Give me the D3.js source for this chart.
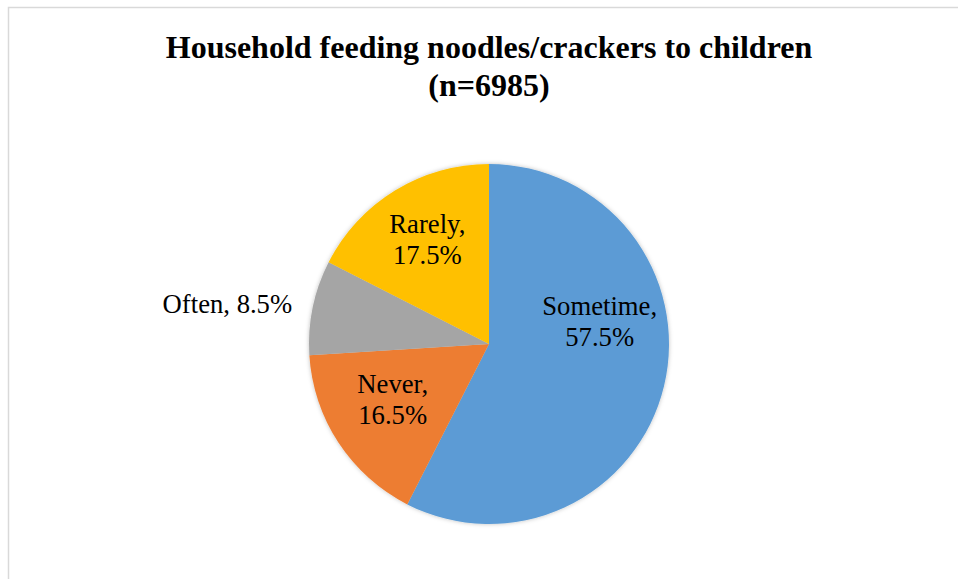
<!DOCTYPE html>
<html><head><meta charset="utf-8">
<script src="https://cdn.jsdelivr.net/npm/d3@7"></script>
<style>body{margin:0;background:#fff;}svg{display:block;}</style>
</head><body>
<script>
const categories = ["Sometime", "Never", "Often", "Rarely"];
const values = [57.5, 16.5, 8.5, 17.5];
const colors = ["#5B9BD5", "#ED7D31", "#A5A5A5", "#FFC000"];
const titleLines = ["Household feeding noodles/crackers to children", "(n=6985)"];

const W = 958, H = 579;
const svg = d3.select("body").append("svg").attr("width", W).attr("height", H);
svg.append("rect").attr("width", W).attr("height", H).attr("fill", "#fff");
svg.append("rect").attr("x", 8.5).attr("y", 7.5).attr("width", W + 20).attr("height", H + 20)
  .attr("fill", "none").attr("stroke", "#d9d9d9").attr("stroke-width", 1.5);

const defs = svg.append("defs");
const f = defs.append("filter").attr("id", "sh").attr("x", "-20%").attr("y", "-20%").attr("width", "140%").attr("height", "140%");
f.append("feDropShadow").attr("dx", 0).attr("dy", 0).attr("stdDeviation", 2).attr("flood-color", "#000").attr("flood-opacity", 0.25);

const font = "'Liberation Serif','Times New Roman',serif";
svg.append("g").selectAll("text").data(titleLines).join("text")
  .attr("x", 489).attr("y", (d, i) => 58 + i * 38)
  .attr("text-anchor", "middle")
  .attr("font-family", font)
  .attr("font-weight", "bold").attr("font-size", 32).attr("fill", "#000")
  .text(d => d);

const cx = 489, cy = 344, R = 180;
const data = categories.map((c, i) => ({cat: c, value: values[i], color: colors[i]}));
const pie = d3.pie().value(d => d.value).sort(null);
const arcs = pie(data);
const arc = d3.arc().innerRadius(0).outerRadius(R);
const g = svg.append("g").attr("transform", `translate(${cx},${cy})`);
g.append("g").attr("filter", "url(#sh)").selectAll("path").data(arcs).join("path")
  .attr("d", arc).attr("fill", d => d.data.color);

// label placement: inside labels on arc at radius 120, outside label at radius 200
const labelArcIn = d3.arc().innerRadius(120).outerRadius(120);
const labelArcOut = d3.arc().innerRadius(200).outerRadius(200);
const outside = [false, false, true, false];
const nudge = [[-6, -57], [4, -17], [-1, 10], [1, -9]];
arcs.forEach((a, i) => {
  const p = outside[i] ? labelArcOut.centroid(a) : labelArcIn.centroid(a);
  const x = p[0] + nudge[i][0], y = p[1] + nudge[i][1];
  const t = g.append("text").attr("font-family", font).attr("font-size", 26.67).attr("fill", "#000")
    .attr("text-anchor", outside[i] ? "end" : "middle");
  if (outside[i]) {
    t.attr("x", x).attr("y", y).text(`${a.data.cat}, ${a.data.value}%`);
  } else {
    t.append("tspan").attr("x", x).attr("y", y).text(`${a.data.cat},`);
    t.append("tspan").attr("x", x).attr("y", y + 31).text(`${a.data.value}%`);
  }
});
</script>
</body></html>
